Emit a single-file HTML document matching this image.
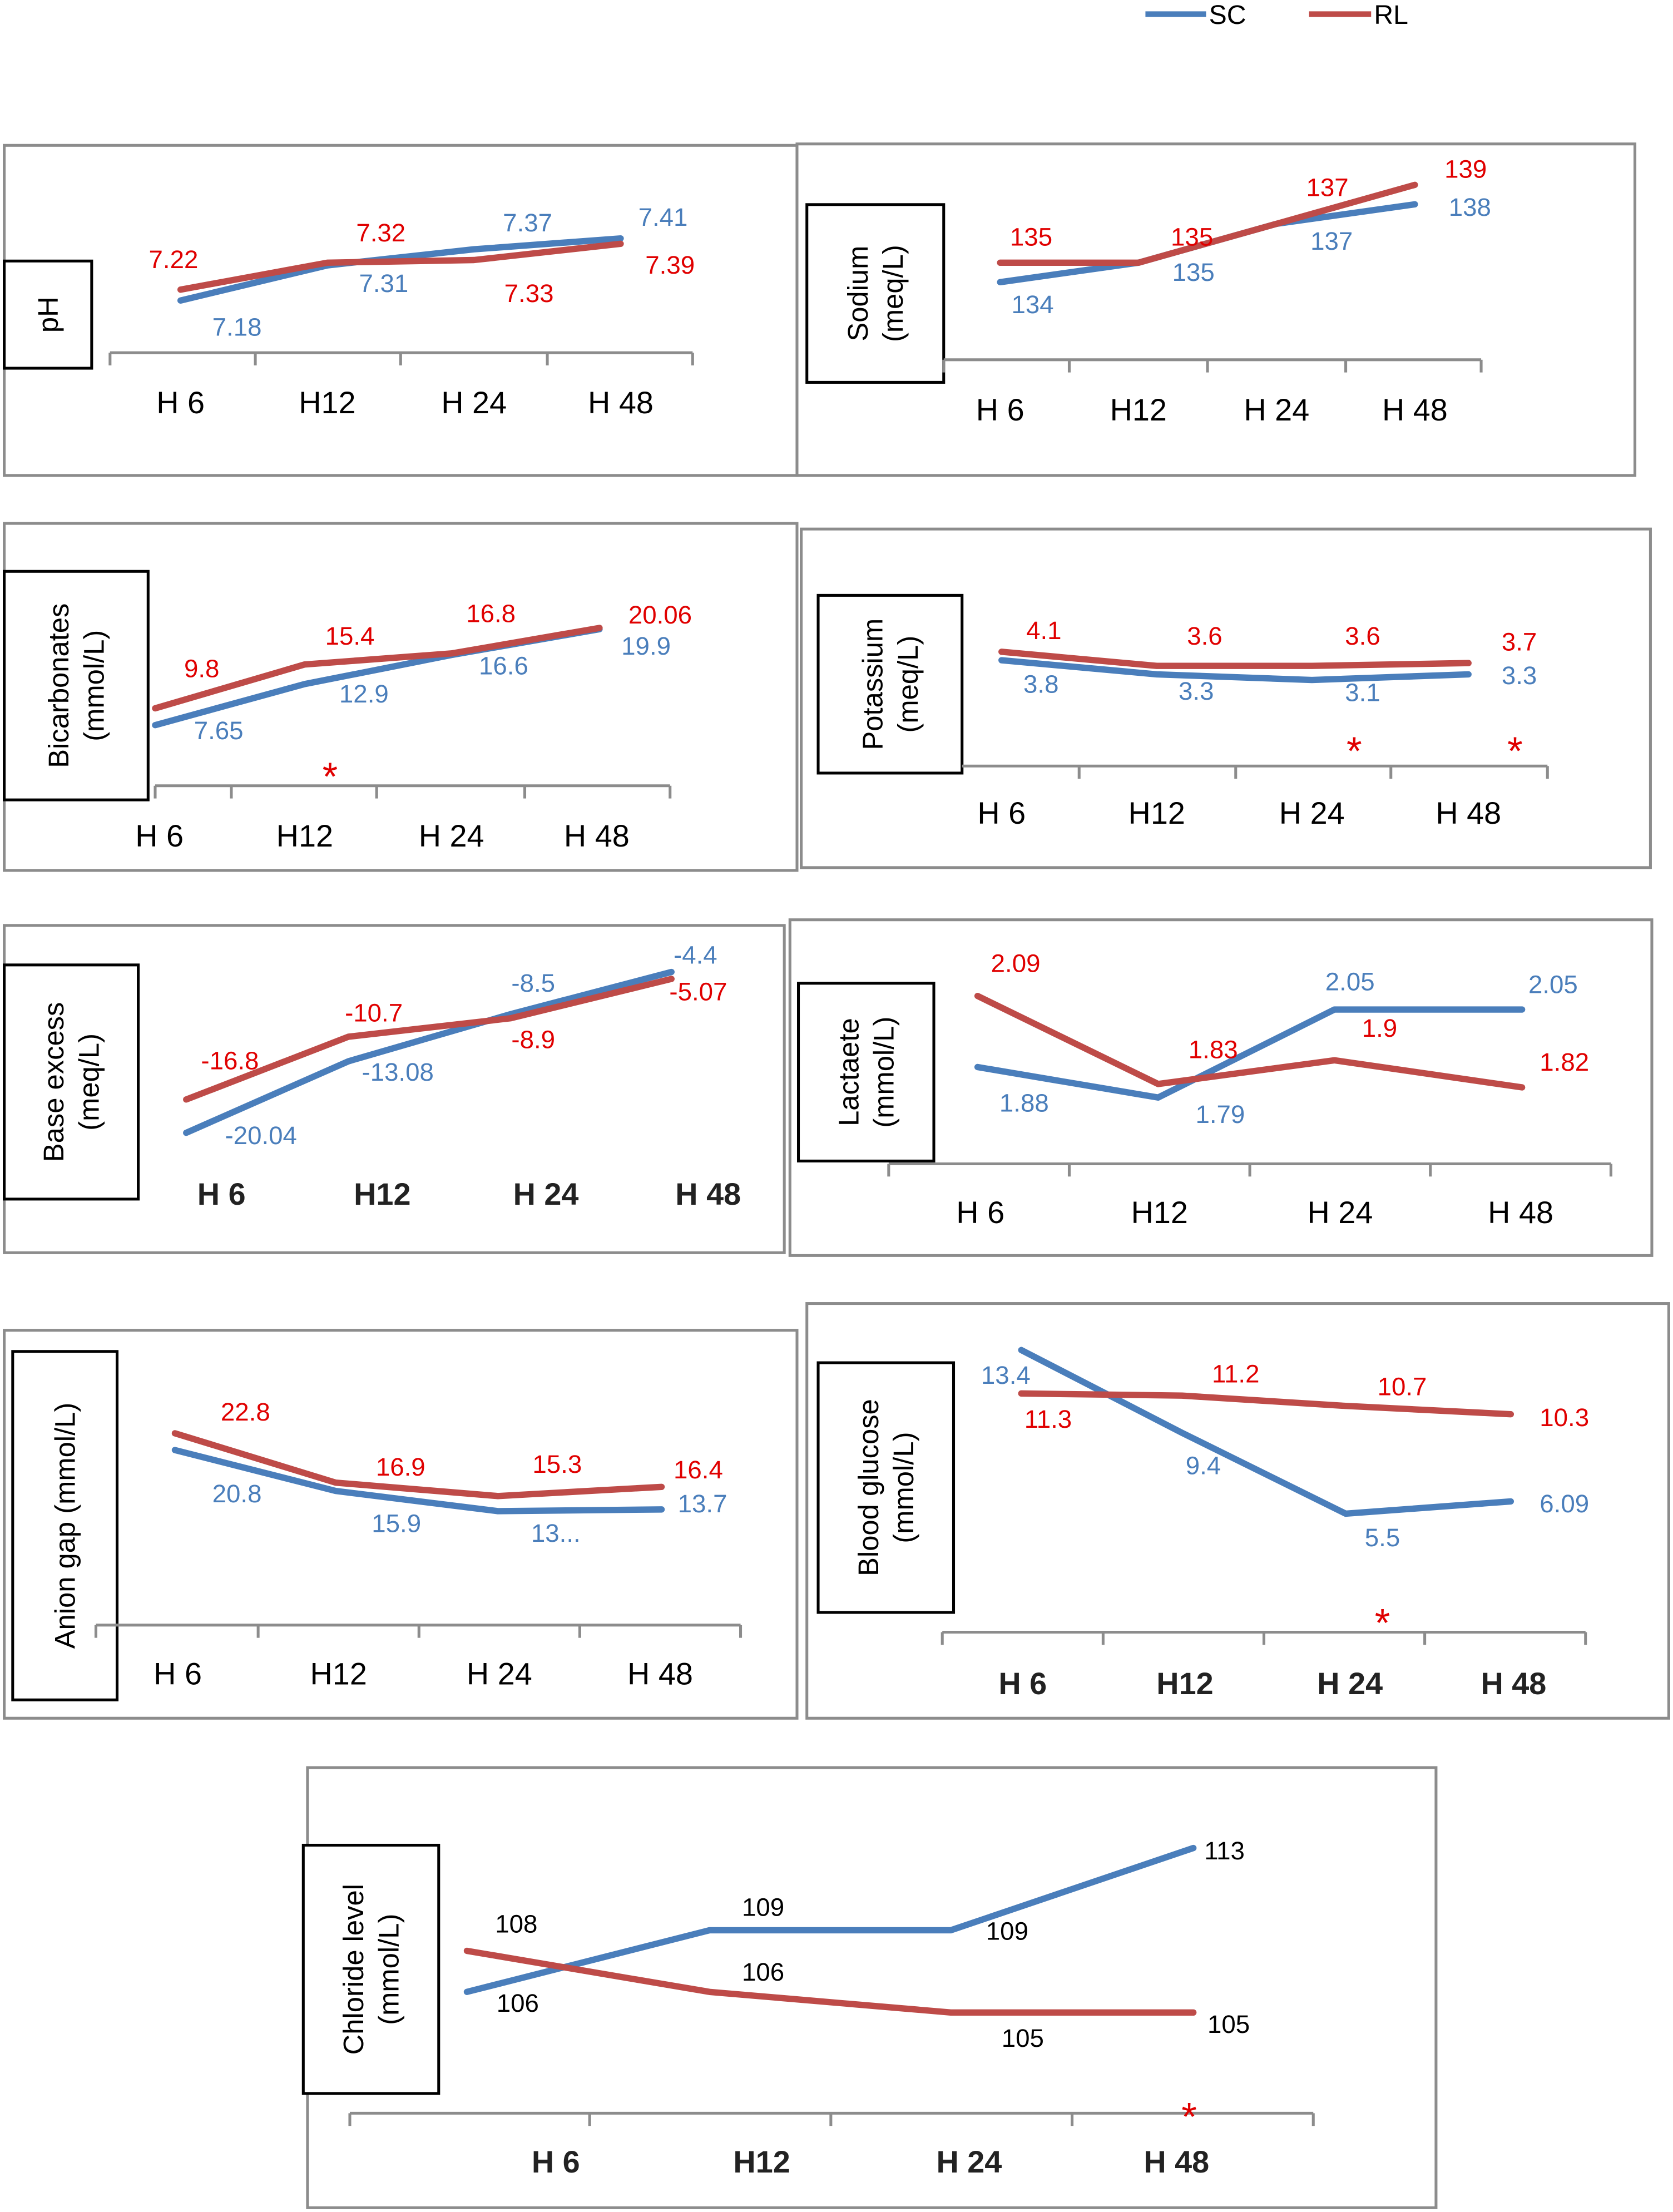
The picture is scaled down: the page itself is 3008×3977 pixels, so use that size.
<!DOCTYPE html>
<html><head><meta charset="utf-8"><style>
html,body{margin:0;padding:0;background:#fff;}
svg{display:block;}
text{font-family:"Liberation Sans",sans-serif;}
</style></head><body>
<svg id="chart" xmlns="http://www.w3.org/2000/svg" width="3008" height="3977" viewBox="0 0 1186 1568">
<g>
<line x1="812" y1="10" x2="855" y2="10" stroke="#4a7ebb" stroke-width="4"/>
<text x="857" y="17" font-size="19">SC</text>
<line x1="928" y1="10" x2="972" y2="10" stroke="#be4b48" stroke-width="4"/>
<text x="974" y="17" font-size="19">RL</text>
</g>
</svg>
<script>
const categories = ["H 6","H12","H 24","H 48"];
const phSC = [7.18, 7.31, 7.37, 7.41];
const phRL = [7.22, 7.32, 7.33, 7.39];
const naSC = [134, 135, 137, 138];
const naRL = [135, 135, 137, 139];
const hco3SC = [7.65, 12.9, 16.6, 19.9];
const hco3RL = [9.8, 15.4, 16.8, 20.06];
const kSC = [3.8, 3.3, 3.1, 3.3];
const kRL = [4.1, 3.6, 3.6, 3.7];
const beSC = [-20.04, -13.08, -8.5, -4.4];
const beRL = [-16.8, -10.7, -8.9, -5.07];
const lacSC = [1.88, 1.79, 2.05, 2.05];
const lacRL = [2.09, 1.83, 1.9, 1.82];
const agSC = [20.8, 15.9, 13.5, 13.7];
const agRL = [22.8, 16.9, 15.3, 16.4];
const agSCLabels = ["20.8","15.9","13...","13.7"];
const gluSC = [13.4, 9.4, 5.5, 6.09];
const gluRL = [11.3, 11.2, 10.7, 10.3];
const clSC = [106, 109, 109, 113];
const clRL = [108, 106, 105, 105];

const NS="http://www.w3.org/2000/svg";
const svg=document.getElementById('chart');
function mk(tag,attrs,parent){const e=document.createElementNS(NS,tag);for(const k in attrs)e.setAttribute(k,attrs[k]);(parent||svg).appendChild(e);return e;}

const panels=[
 {id:'ph',rect:[3,103,562,234],box:[3,185,62,76],title:['pH'],axis:[250,78,491],ticks:[78,181,284,388,491],px:[128,232,336,440],cx:[128,232,336,440],cy:285,bold:false,
  scale:[7.18,213,7.41,169],sc:phSC,rl:phRL,
  rlL:[[123,184],[270,165],[375,208],[475,188]],scL:[[168,232],[272,201],[374,158],[470,154]]},
 {id:'sodium',rect:[565,102,594,235],box:[572,145,97,126],title:['Sodium','(meq/L)'],axis:[255,669,1050],ticks:[669,758,856,954,1050],px:[709,807,905,1003],cx:[709,807,905,1003],cy:290,bold:false,
  scale:[134,200,139,131],sc:naSC,rl:naRL,
  rlL:[[731,168],[845,168],[941,133],[1039,120]],scL:[[732,216],[846,193],[944,171],[1042,147]]},
 {id:'bicarbonates',rect:[3,371,562,246],box:[3,405,102,162],title:['Bicarbonates','(mmol/L)'],axis:[557,110,475],ticks:[110,164,267,372,475],px:[110,216,320,425],cx:[113,216,320,423],cy:592,bold:false,
  scale:[7.65,514,19.9,446],sc:hco3SC,rl:hco3RL,
  rlL:[[143,474],[248,451],[348,435],[468,436]],scL:[[155,518],[258,492],[357,472],[458,458]],stars:[[234,550]]},
 {id:'potassium',rect:[568,375,602,240],box:[580,422,102,126],title:['Potassium','(meq/L)'],axis:[543,682,1097],ticks:[765,876,986,1097],px:[710,820,930,1041],cx:[710,820,930,1041],cy:576,bold:false,
  scale:[3.1,482,4.1,462],sc:kSC,rl:kRL,
  rlL:[[740,447],[854,451],[966,451],[1077,455]],scL:[[738,485],[848,490],[966,491],[1077,479]],stars:[[960,532],[1074,532]]},
 {id:'base-excess',rect:[3,656,553,232],box:[3,684,95,166],title:['Base excess','(meq/L)'],axis:null,ticks:[],px:[132,247,362,476],cx:[157,271,387,502],cy:846,bold:true,
  scale:[-20.04,803,-4.4,689],sc:beSC,rl:beRL,
  rlL:[[163,752],[265,718],[378,737],[495,703]],scL:[[185,805],[282,760],[378,697],[493,677]]},
 {id:'lactate',rect:[560,652,611,238],box:[566,697,96,126],title:['Lactaete','(mmol/L)'],axis:[825,630,1142],ticks:[630,758,886,1014,1142],px:[693,821,946,1079],cx:[695,822,950,1078],cy:859,bold:false,
  scale:[1.79,778,2.09,706],sc:lacSC,rl:lacRL,
  rlL:[[720,683],[860,744],[978,729],[1109,753]],scL:[[726,782],[865,790],[957,696],[1101,698]]},
 {id:'anion-gap',rect:[3,943,562,275],box:[9,958,74,247],title:['Anion gap  (mmol/L)'],axis:[1152,68,525],ticks:[68,183,297,411,525],px:[124,238,353,469],cx:[126,240,354,468],cy:1186,bold:false,
  scale:[13.7,1070,22.8,1016],sc:agSC,rl:agRL,scText:agSCLabels,
  rlL:[[174,1001],[284,1040],[395,1038],[495,1042]],scL:[[168,1059],[281,1080],[394,1087],[498,1066]]},
 {id:'blood-glucose',rect:[572,924,611,294],box:[580,966,96,177],title:['Blood glucose','(mmol/L)'],axis:[1157,668,1124],ticks:[668,782,896,1010,1124],px:[724,838,954,1071],cx:[725,840,957,1073],cy:1193,bold:true,
  scale:[5.5,1073,13.4,957],sc:gluSC,rl:gluRL,
  rlL:[[743,1006],[876,974],[994,983],[1109,1005]],scL:[[713,975],[853,1039],[980,1090],[1109,1066]],stars:[[980,1150]]},
 {id:'chloride',rect:[218,1253,800,312],box:[215,1308,96,176],title:['Chloride level','(mmol/L)'],axis:[1498,248,931],ticks:[248,418,589,760,931],px:[331,503,674,846],cx:[394,540,687,834],cy:1532,bold:true,black:true,
  scale:[106,1412,113,1310],sc:clSC,rl:clRL,
  rlL:[[366,1364],[541,1398],[725,1445],[871,1435]],scL:[[367,1420],[541,1352],[714,1369],[868,1312]],stars:[[843,1500]]}
];

panels.forEach(p=>{
  const g=mk('g',{});
  
  
  const r=mk('rect',{x:p.rect[0],y:p.rect[1],width:p.rect[2],height:p.rect[3],fill:'#fff',stroke:'#8c8c8c','stroke-width':2},g);
  
  
  const b=mk('rect',{x:p.box[0],y:p.box[1],width:p.box[2],height:p.box[3],fill:'#fff',stroke:'#000','stroke-width':2},g);
  
  
  const bcx=p.box[0]+p.box[2]/2, bcy=p.box[1]+p.box[3]/2;
  const t=mk('text',{x:0,y:0,'font-size':20,'text-anchor':'middle',transform:`translate(${bcx},${bcy}) rotate(-90)`},g);
  
  
  const n=p.title.length;
  p.title.forEach((s,i)=>{const ts=mk('tspan',{x:0,y:(i-(n-1)/2)*25+7},t);ts.textContent=s;});
  if(p.axis){
    const a=mk('line',{x1:p.axis[1],y1:p.axis[0],x2:p.axis[2],y2:p.axis[0],stroke:'#8c8c8c','stroke-width':2},g);
    
    
    p.ticks.forEach(x=>{
      const tk=mk('line',{x1:x,y1:p.axis[0],x2:x,y2:p.axis[0]+9,stroke:'#8c8c8c','stroke-width':2},g);
      
      
    });
  }
  categories.forEach((c,i)=>{
    const ct=mk('text',{x:p.cx[i],y:p.cy+8,'font-size':22,'text-anchor':'middle','font-weight':p.bold?'bold':'normal',fill:p.bold?'#222':'#000'},g);
    
    
    ct.textContent=c;
  });
  const [v1,y1,v2,y2]=p.scale;
  const yS=v=>y1+(v-v1)*(y2-y1)/(v2-v1);
  [['sc',p.sc,'#4a7ebb','#4a7ebb',p.scL,p.scText],['rl',p.rl,'#be4b48','#e00000',p.rlL,null]].forEach(([nm,vals,col,tcol,labs,txts])=>{
    const pts=vals.map((v,i)=>p.px[i]+','+yS(v).toFixed(1)).join(' ');
    const pl=mk('polyline',{points:pts,fill:'none',stroke:col,'stroke-width':4.5,'stroke-linejoin':'round','stroke-linecap':'round'},g);
    
    
    vals.forEach((v,i)=>{
      const lt=mk('text',{x:labs[i][0],y:labs[i][1]+6,'font-size':18,'text-anchor':'middle',fill:p.black?'#000':tcol},g);
      
      
      lt.textContent=txts?txts[i]:String(v);
    });
  });
  (p.stars||[]).forEach(s=>{
    const st=mk('text',{x:s[0],y:s[1]+10,'font-size':28,'text-anchor':'middle',fill:'#e00000'},g);
    
    
    st.textContent='*';
  });
});
</script>
</body></html>
